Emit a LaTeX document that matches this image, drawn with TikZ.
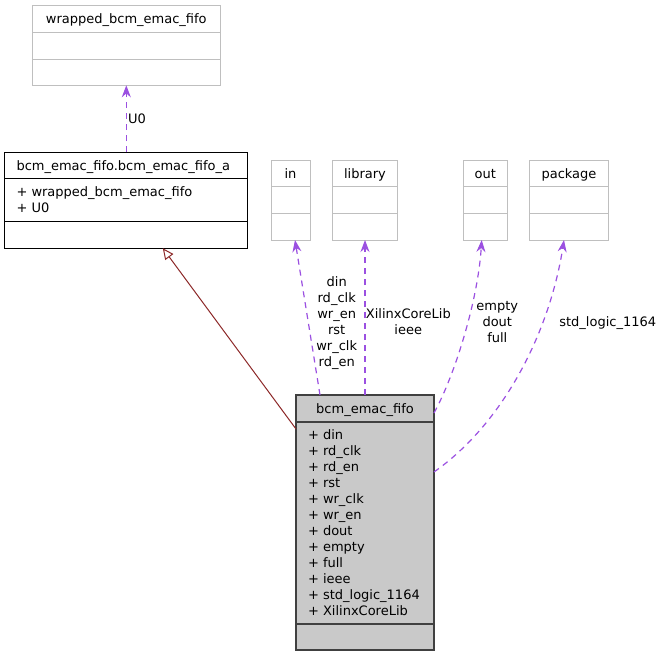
\documentclass[tikz,border=0pt]{standalone}
\usepackage{fontspec}
\setmainfont{DejaVu Sans}
\usetikzlibrary{arrows.meta, calc}

\definecolor{edgepurple}{RGB}{155,80,225}
\definecolor{inhred}{RGB}{140,40,40}
\definecolor{boxgray}{RGB}{191,191,191}
\definecolor{fillgray}{RGB}{201,201,201}

\begin{document}
\begin{tikzpicture}[x=1pt, y=-1pt,
  every node/.style={font=\fontsize{13pt}{16pt}\selectfont, inner sep=0pt, outer sep=0pt},
  graybox/.style={draw=boxgray, line width=1pt},
  txt/.style={anchor=base west},
  ctxt/.style={anchor=base},
  lbl/.style={align=center, anchor=base},
  dep/.style={edgepurple, line width=1.2pt, dash pattern=on 6pt off 5pt,
    -{Stealth[length=12pt, width=9pt]}},
  inh/.style={inhred, line width=1pt, -{Triangle[open, length=11pt, width=10pt, fill=white]}}]
\useasboundingbox (0,0) rectangle (665,659);

% wrapped component
\node[graybox, minimum width=188pt, minimum height=80pt] (wrapped) at (126.3,45.3) {};
\draw[boxgray, line width=1pt] (32,32) -- (220,32) (32,59) -- (220,59);
\node[ctxt] (wrappedT) at (126.3,23.3) {wrapped\_bcm\_emac\_fifo};

% architecture
\node[draw=black, line width=1.2pt, minimum width=243pt, minimum height=96pt] (fifoA) at (126.3,200.2) {};
\draw[black, line width=1.2pt] (5,178.7) -- (247.7,178.7) (5,221.3) -- (247.7,221.3);
\node[txt] (fifoAT) at (16.5,170) {bcm\_emac\_fifo.bcm\_emac\_fifo\_a};
\node[txt] (fifoA1) at (16.5,196.7) {+ wrapped\_bcm\_emac\_fifo};
\node[txt] (fifoA2) at (16.5,212.7) {+ U0};

% port and library boxes
\foreach \name/\cx/\w/\t in {inBox/290.5/39/in, libBox/365/65.4/library,
    outBox/485.3/44/out, pkgBox/569/79.4/package} {
  \node[graybox, minimum width=\w pt, minimum height=80pt] (\name) at (\cx,200) {};
  \draw[boxgray, line width=1pt] (\cx-\w/2,186.7) -- (\cx+\w/2,186.7)
    (\cx-\w/2,213.3) -- (\cx+\w/2,213.3);
  \node[ctxt] (\name T) at (\cx,178.3) {\t};
}

% entity
\node[draw=black!75, fill=fillgray, line width=1.3pt, minimum width=138pt, minimum height=255pt] (fifo) at (365,522.5) {};
\draw[black!75, line width=1.2pt] (296,422) -- (434,422) (296,624) -- (434,624);
\node[ctxt] (fifoT) at (365,413.3) {bcm\_emac\_fifo};
\foreach \t [count=\i from 0] in {din, rd\_clk, rd\_en, rst, wr\_clk, wr\_en,
    dout, empty, full, ieee, std\_logic\_1164, XilinxCoreLib} {
  \node[txt] (item\i) at (308,439.3+16*\i) {+ \t};
}

% edges
\draw[dep] (fifoA.north) -- (wrapped.south);
\node[txt] (lU0) at (128,123.3) {U0};

\draw[inh] ($(fifo.north west)+(0,34)$) -- ($(fifoA.south)+(36.5,0)$);

\draw[dep] ($(fifo.north west)+(24,0)$) -- ($(inBox.south)+(4.5,0)$);
\node[lbl] (lIn) at (336.7,366) {din\\rd\_clk\\wr\_en\\rst\\wr\_clk\\rd\_en};

\draw[dep] (fifo.north) -- (libBox.south);
\node[lbl] (lLib) at (408.3,334.3) {XilinxCoreLib\\ieee};

\draw[dep] ($(fifo.north east)+(0,18)$) .. controls (455,375) and (478,300) .. ($(outBox.south)+(-3.6,0)$);
\node[lbl] (lOut) at (497.3,342) {empty\\dout\\full};

\draw[dep] ($(fifo.north east)+(0,77)$) .. controls (505,422) and (550,330) .. ($(pkgBox.south)+(-5,0)$);
\node[lbl] (lPkg) at (607.7,326) {std\_logic\_1164};

\end{tikzpicture}
\end{document}
